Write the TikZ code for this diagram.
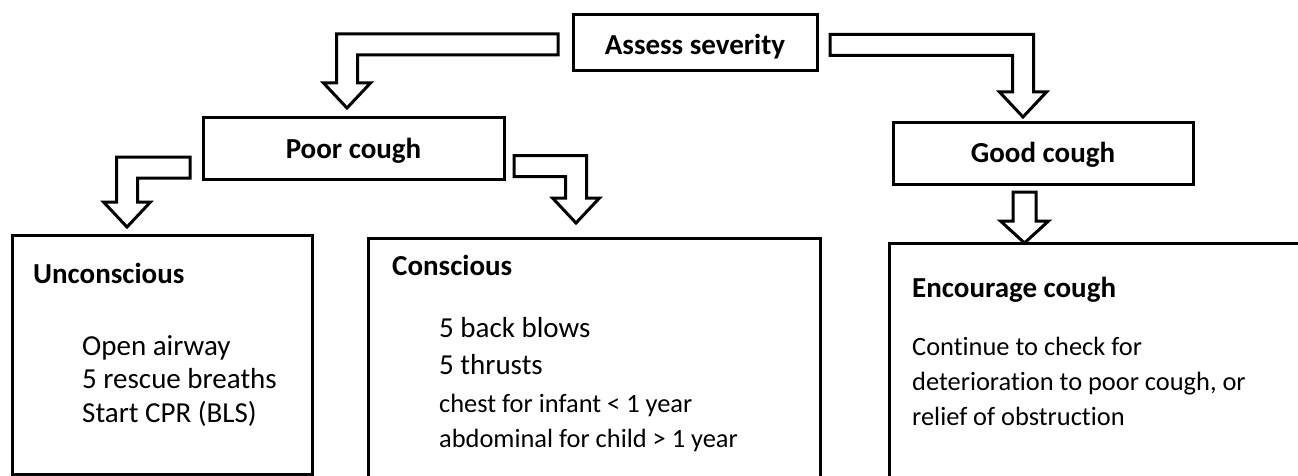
\documentclass[tikz,border=0pt]{standalone}
\usepackage{fontspec}
\setmainfont{Carlito}[Ligatures=NoCommon]
\usetikzlibrary{calc}

% hollow elbow arrow: #1 tail (centre of the band end), #2 tip, #3 turn direction (+1 right, -1 left)
\newcommand{\elbowarrow}[3]{%
  \draw[blockarrow] let \p1=(#1), \p2=(#2) in
    (\x1,\y1+10.5pt) -- (\x2+#3*10.5pt,\y1+10.5pt) -- (\x2+#3*10.5pt,\y2+25pt)
    -- (\x2+#3*23.5pt,\y2+25pt) -- (\x2,\y2) -- (\x2-#3*23.5pt,\y2+25pt)
    -- (\x2-#3*10.5pt,\y2+25pt) -- (\x2-#3*10.5pt,\y1-10.5pt) -- (\x1,\y1-10.5pt) -- cycle;}
% hollow straight arrow pointing down from #1 to #2
\newcommand{\straightarrow}[2]{%
  \draw[blockarrow] let \p1=(#1), \p2=(#2) in
    (\x1-11.5pt,\y1) -- (\x1+11.5pt,\y1) -- (\x1+11.5pt,\y2+22pt) -- (\x1+24pt,\y2+22pt)
    -- (\x1,\y2) -- (\x1-24pt,\y2+22pt) -- (\x1-11.5pt,\y2+22pt) -- cycle;}

\begin{document}
\begin{tikzpicture}[x=1pt,y=-1pt,
  box/.style={draw=black, line width=3pt, inner sep=0pt, outer sep=0pt},
  title/.style={font=\fontsize{29}{34}\selectfont\bfseries, inner sep=0pt, anchor=base},
  head/.style={font=\fontsize{29}{34}\selectfont\bfseries, inner sep=0pt, anchor=base west},
  body/.style={font=\fontsize{29}{34}\selectfont, inner sep=0pt, anchor=base west},
  small/.style={font=\fontsize{26.4}{33}\selectfont, inner sep=0pt, anchor=base west},
  blockarrow/.style={draw=black, fill=white, line width=3pt, line join=miter}]

\fill[white] (0,0) rectangle (1298,476);
\clip (0,0) rectangle (1298,476);

% top level
\node[box, minimum width=244pt, minimum height=56pt] (assess) at (695,43) {};
\node[title] (assessT) at (695,55) {Assess severity};

% second level
\node[box, minimum width=301pt, minimum height=61pt] (poor) at (353.5,148.5) {};
\node[title] (poorT) at (353.5,158) {Poor cough};
\node[box, minimum width=300pt, minimum height=61pt] (good) at (1043,153.5) {};
\node[title] (goodT) at (1043,162) {Good cough};

% action boxes
\node[box, minimum width=300pt, minimum height=239pt] (uncon) at (162,354.5) {};
\node[head] (unconT) at (33,283) {Unconscious};
\node[body] (u1) at (82,355) {Open airway};
\node[body] (u2) at (82,388.5) {5 rescue breaths};
\node[body] (u3) at (82,422) {Start CPR (BLS)};

\node[box, minimum width=452pt, minimum height=262pt] (con) at (594,369) {};
\node[head] (conT) at (392,275) {Conscious};
\node[body] (c1) at (439,337) {5 back blows};
\node[body] (c2) at (439,374) {5 thrusts};
\node[small] (c3) at (439,412) {chest for infant < 1 year};
\node[small] (c4) at (439,447) {abdominal for child > 1 year};

\node[box, minimum width=431pt, minimum height=257pt] (enc) at (1104.5,371.5) {};
\node[head] (encT) at (912,297) {Encourage cough};
\node[small] (e1) at (912,355) {Continue to check for};
\node[small] (e2) at (912,390) {deterioration to poor cough, or};
\node[small] (e3) at (912,425) {relief of obstruction};

% arrow ends
\coordinate (tA) at ([xshift=-15pt,yshift=-1.5pt]assess.west);
\coordinate (hA) at ([xshift=-6.5pt,yshift=10pt]poor.north);
\coordinate (tB) at ([xshift=13pt,yshift=-2pt]assess.east);
\coordinate (hB) at ([xshift=-20pt,yshift=6pt]good.north);
\coordinate (tC) at ([xshift=-13pt,yshift=-19pt]poor.west);
\coordinate (hC) at ([xshift=-35pt,yshift=8pt]uncon.north);
\coordinate (tD) at ([xshift=10pt,yshift=-17.5pt]poor.east);
\coordinate (hD) at ([xshift=-18pt,yshift=15pt]con.north);
\coordinate (tE) at ([xshift=-18.5pt,yshift=-8pt]good.south);
\coordinate (hE) at (tE |- enc.north);

\elbowarrow{tA}{hA}{-1}
\elbowarrow{tB}{hB}{1}
\elbowarrow{tC}{hC}{-1}
\elbowarrow{tD}{hD}{1}
\straightarrow{tE}{hE}
\end{tikzpicture}
\end{document}
